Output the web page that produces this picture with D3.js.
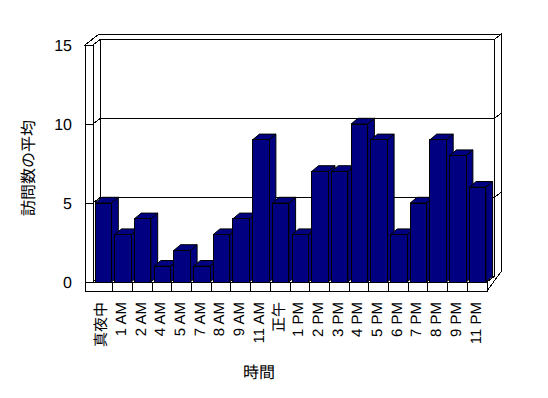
<!DOCTYPE html>
<html>
<head>
<meta charset="utf-8">
<script src="https://cdn.jsdelivr.net/npm/d3@7"></script>
<style>
  html, body { margin: 0; padding: 0; background: #fff; }
  svg { display: block; }
  text { font-family: "Liberation Sans", "Noto Sans CJK JP", sans-serif; fill: #000; text-rendering: geometricPrecision; }
</style>
</head>
<body>
<svg id="chart" width="548" height="398"></svg>
<script>
const categories = ['真夜中', '1 AM', '2 AM', '4 AM', '5 AM', '7 AM', '8 AM', '9 AM', '11 AM', '正午',
  '1 PM', '2 PM', '3 PM', '4 PM', '5 PM', '6 PM', '7 PM', '8 PM', '9 PM', '11 PM']
const values = [5, 3, 4, 1, 2, 1, 3, 4, 9, 5, 3, 7, 7, 10, 9, 3, 5, 9, 8, 6]
const yTicks = [0, 5, 10, 15]
const xTitle = '時間'
const yTitle = '訪問数の平均'

const svg = d3.select('#chart')

// front plane of the plot box
const x = d3.scaleBand().domain(categories).range([93, 487])
const y = d3.scaleLinear().domain([0, 15]).range([282, 45])

// oblique depth offsets: inner face of back wall, outer face of back wall, bar depth
const dIn = { x: 7.7, y: -5.8 }
const dOut = { x: 14.5, y: -11 }
const dBar = { x: 6.8, y: -5.7 }

const wallLeft = 85
const floorBottom = 291
const x0 = x.range()[0]
const x1 = x.range()[1]
const yTop = y(15)
const yBase = y(0)

const pts = (arr) => arr.map((p) => p.join(',')).join(' ')

const walls = svg.append('g')
  .attr('fill', '#fff')
  .attr('stroke', '#000')
  .attr('stroke-width', 1)
  .attr('shape-rendering', 'crispEdges')

// back wall inner face
walls.append('polygon').attr('points', pts([
  [x0 + dIn.x, yTop + dIn.y], [x1 + dIn.x, yTop + dIn.y],
  [x1 + dIn.x, yBase + dIn.y], [x0 + dIn.x, yBase + dIn.y],
]))
// left wall inner face
walls.append('polygon').attr('points', pts([
  [x0, yTop], [x0 + dIn.x, yTop + dIn.y], [x0 + dIn.x, yBase + dIn.y], [x0, yBase],
]))
// floor top
walls.append('polygon').attr('points', pts([
  [x0, yBase], [x1, yBase], [x1 + dIn.x, yBase + dIn.y], [x0 + dIn.x, yBase + dIn.y],
]))
// top faces of walls
walls.append('polygon').attr('points', pts([
  [wallLeft, yTop], [x0, yTop], [x0 + dIn.x, yTop + dIn.y], [x1 + dIn.x, yTop + dIn.y],
  [x1 + dOut.x, yTop + dOut.y], [wallLeft + dOut.x - 0.5, yTop + dOut.y],
]))
// right side faces of back wall and floor
walls.append('polygon').attr('points', pts([
  [x1 + dIn.x, yTop + dIn.y], [x1 + dOut.x, yTop + dOut.y], [x1 + dOut.x, yBase + dOut.y],
  [x1, floorBottom], [x1, yBase], [x1 + dIn.x, yBase + dIn.y],
]))
// left wall front face
walls.append('rect')
  .attr('x', wallLeft).attr('y', yTop)
  .attr('width', x0 - wallLeft).attr('height', yBase - yTop)
// floor front face
walls.append('rect')
  .attr('x', wallLeft).attr('y', yBase)
  .attr('width', x1 - wallLeft).attr('height', floorBottom - yBase)

// gridlines across the walls
const grid = svg.append('g')
  .attr('fill', 'none')
  .attr('stroke', '#000')
  .attr('shape-rendering', 'crispEdges')

grid.selectAll('path')
  .data(yTicks.filter((t) => t > 0 && t < 15))
  .enter()
  .append('path')
  .attr('d', (t) => {
    const gy = y(t)
    return `M${wallLeft},${gy}H${x0}L${x0 + dIn.x},${gy + dIn.y}H${x1 + dIn.x}L${x1 + dOut.x},${gy + dOut.y}`
  })

// category dividers on floor front
grid.selectAll('line')
  .data(categories.slice(1))
  .enter()
  .append('line')
  .attr('x1', (d) => x(d))
  .attr('x2', (d) => x(d))
  .attr('y1', yBase)
  .attr('y2', floorBottom)

// bars
const barOffset = 2
const barWidth = 16.5
const bars = svg.append('g')
  .attr('fill', '#000080')
  .attr('stroke', '#000')
  .attr('stroke-width', 1)
  .attr('stroke-linejoin', 'round')

const bar = bars.selectAll('g')
  .data(categories.map((c, i) => ({ c, v: values[i] })))
  .enter()
  .append('g')

bar.append('polygon')
  .attr('points', (d) => {
    const bx = x(d.c) + barOffset
    const by = y(d.v)
    return pts([[bx + barWidth, by], [bx + barWidth + dBar.x, by + dBar.y],
      [bx + barWidth + dBar.x, yBase + dBar.y], [bx + barWidth, yBase]])
  })

bar.append('polygon')
  .attr('points', (d) => {
    const bx = x(d.c) + barOffset
    const by = y(d.v)
    return pts([[bx, by], [bx + barWidth, by], [bx + barWidth + dBar.x, by + dBar.y], [bx + dBar.x, by + dBar.y]])
  })

bar.append('rect')
  .attr('shape-rendering', 'crispEdges')
  .attr('x', (d) => x(d.c) + barOffset)
  .attr('y', (d) => y(d.v))
  .attr('width', barWidth)
  .attr('height', (d) => yBase - y(d.v))

// y tick labels
svg.append('g')
  .selectAll('text')
  .data(yTicks)
  .enter()
  .append('text')
  .attr('x', 72)
  .attr('y', (t) => y(t))
  .attr('dy', '0.36em')
  .attr('text-anchor', 'end')
  .attr('font-size', 16)
  .attr('fill', '#000')
  .text((t) => t)

// x tick labels, rotated
svg.append('g')
  .selectAll('text')
  .data(categories)
  .enter()
  .append('text')
  .attr('transform', (d) => `translate(${x(d) + x.bandwidth() / 2 - 2}, 302) rotate(-90)`)
  .attr('dy', '0.36em')
  .attr('text-anchor', 'end')
  .attr('font-size', 15)
  .attr('fill', '#000')
  .text((d) => d)

// axis titles
svg.append('text')
  .attr('x', 259)
  .attr('y', 372)
  .attr('dy', '0.36em')
  .attr('text-anchor', 'middle')
  .attr('font-size', 16)
  .attr('fill', '#000')
  .text(xTitle)

svg.append('text')
  .attr('transform', 'translate(28, 168) rotate(-90)')
  .attr('dy', '0.36em')
  .attr('text-anchor', 'middle')
  .attr('font-size', 16)
  .attr('fill', '#000')
  .text(yTitle)
</script>
</body>
</html>
